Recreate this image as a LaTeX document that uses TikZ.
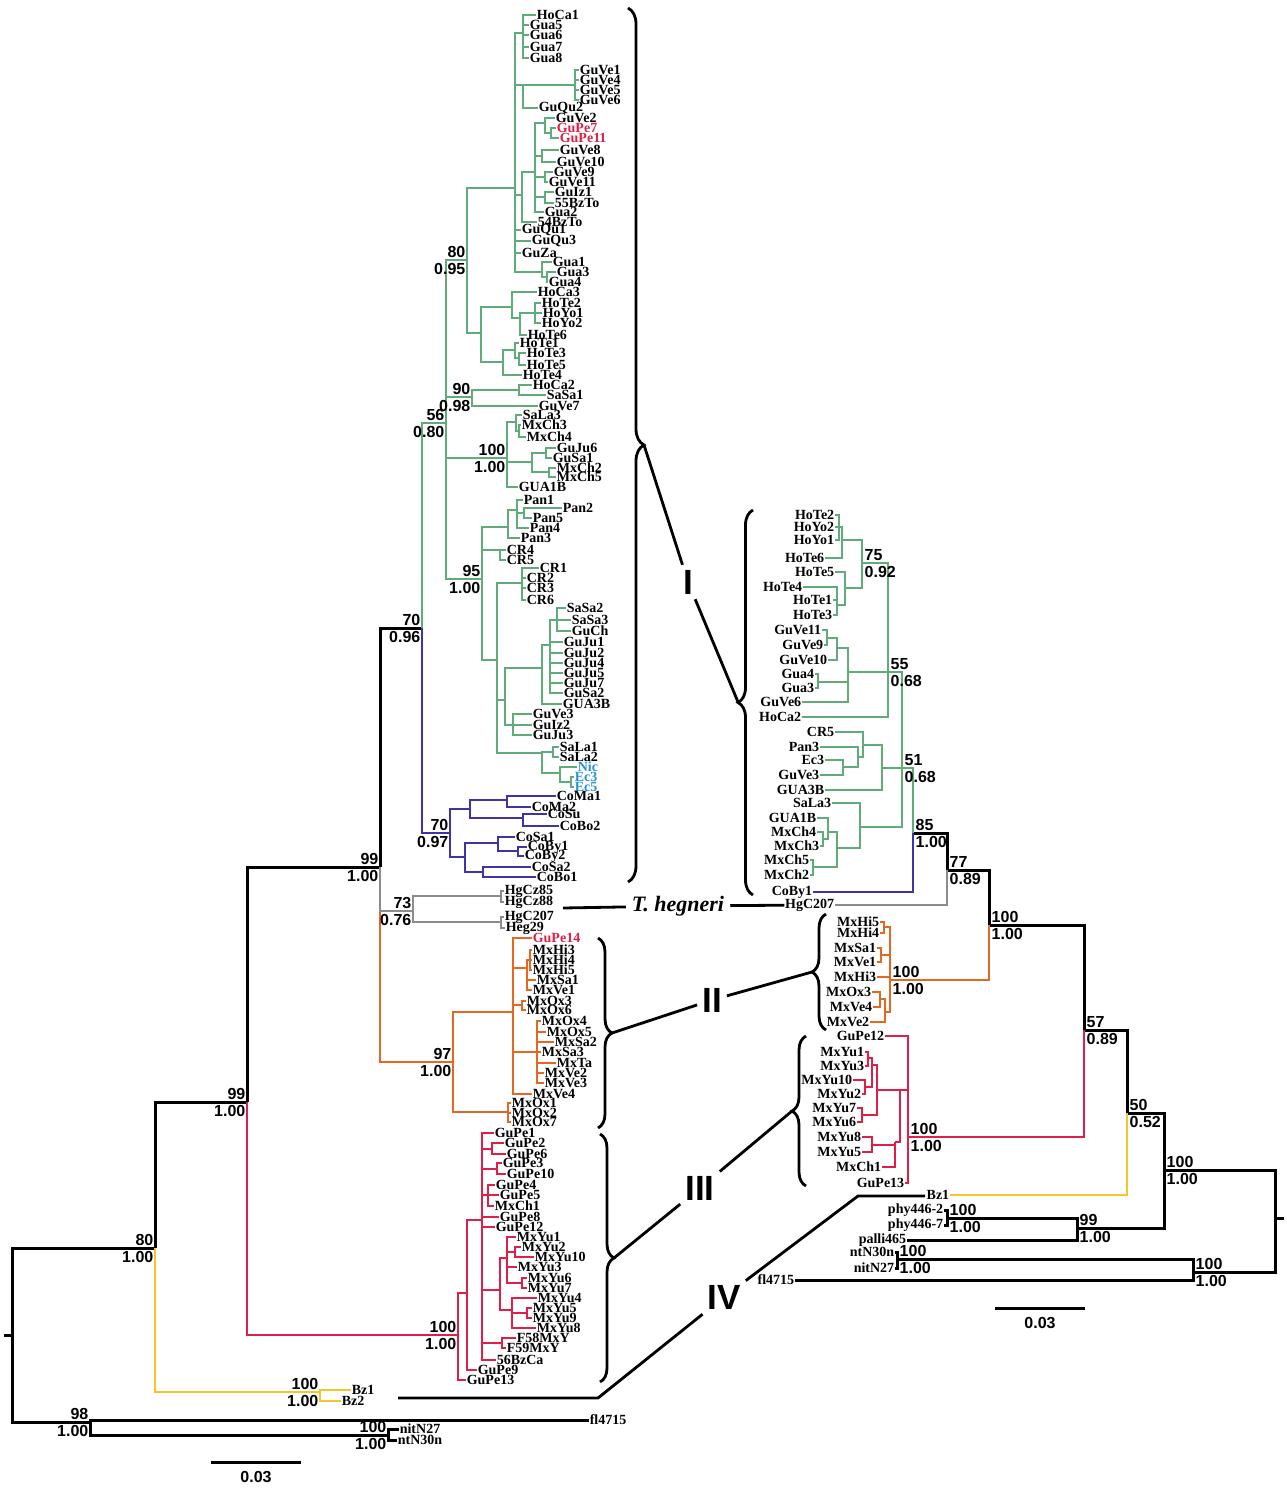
\documentclass[tikz,border=0pt]{standalone}
\usepackage{fontspec}
\setmainfont{Liberation Serif}
\newfontfamily\numfont{Liberation Sans}
\usepackage{tikz}
\usetikzlibrary{decorations.pathreplacing}

\definecolor{tgreen}{RGB}{95,172,122}
\definecolor{tpurple}{RGB}{62,52,168}
\definecolor{tgray}{RGB}{140,140,140}
\definecolor{torange}{RGB}{228,104,34}
\definecolor{tred}{RGB}{222,32,72}
\definecolor{tyellow}{RGB}{246,196,44}
\definecolor{tblue}{RGB}{40,145,210}

\tikzset{
  lf/.style={anchor=west, inner sep=0.6pt, font=\fontsize{14}{14}\selectfont\bfseries},
  rf/.style={lf, anchor=east},
  bsv/.style={inner sep=0.5pt, font=\numfont\fontsize{16}{16}\selectfont\bfseries},
  br/.style={line width=2.6pt},
  kbr/.style={line width=3pt, draw=black},
  gbr/.style={br, draw=tgreen},
  pbr/.style={br, draw=tpurple},
  hbr/.style={br, draw=tgray},
  obr/.style={br, draw=torange},
  rbr/.style={br, draw=tred},
  ybr/.style={br, draw=tyellow},
  brc/.style={decorate, decoration={brace, amplitude=#1}, line width=2.8pt},
  conn/.style={line width=2.8pt},
  roman/.style={font=\numfont\fontsize{35}{35}\selectfont\bfseries, inner sep=5pt},
}

\newcommand{\nd}[3]{\coordinate (#1) at (#2,#3);}
\newcommand{\tip}[4][]{\node[lf,#1] (#2) at (#3,#4) {#2};}
\newcommand{\rtip}[4][]{\node[rf,#1] (r#2) at (#3,#4) {#2};}
\newcommand{\kids}[3]{\foreach \kid in {#3} {\draw[#1] (#2) |- (\kid);}}
\newcommand{\bsl}[3]{%
  \node[bsv, anchor=south east] (#1t) at ([xshift=-1pt,yshift=2pt]#1) {#2};
  \node[bsv, anchor=north east] (#1b) at ([xshift=-1pt,yshift=-3pt]#1) {#3};}
\newcommand{\bsr}[3]{%
  \node[bsv, anchor=south west] (#1t) at ([xshift=2pt,yshift=2pt]#1) {#2};
  \node[bsv, anchor=north west] (#1b) at ([xshift=2pt,yshift=-3pt]#1) {#3};}

\begin{document}
\begin{tikzpicture}[x=1pt, y=-1pt]
\useasboundingbox (0,0) rectangle (1286,1490);

% left tree, backbone
\nd{root}{12}{1335} \nd{rootstub}{4}{1335}
\nd{n98}{90}{1422} \nd{nNit}{388}{1435}
\nd{n80}{155}{1248} \nd{nBz}{320}{1392}
\nd{n99a}{247}{1102} \nd{n99b}{380}{867}
\nd{nRed}{458}{1335} \nd{nI}{422}{628}
\nd{nGray}{413}{911} \nd{nOr}{453}{1062}
\nd{nGreen}{446}{423} \nd{nPur}{450}{833}

% clade I
\nd{nA}{467}{260} \nd{nB}{515}{188} \nd{nB1}{523}{33} \nd{nB2}{523}{85}
\nd{nGV}{575}{85} \nd{nB3}{522}{195} \nd{nC}{535}{172} \nd{nC1}{545}{123}
\nd{nC1a}{551}{133} \nd{nC2}{542}{156} \nd{nC3}{545}{177} \nd{nC4}{545}{197}
\nd{nB4}{542}{272} \nd{nB4a}{547}{277}
\tip{HoCa1}{536}{15} \tip{Gua5}{529}{25} \tip{Gua6}{529}{35} \tip{Gua7}{529}{47} \tip{Gua8}{529}{58}
\tip{GuVe1}{579}{70} \tip{GuVe4}{579}{80} \tip{GuVe5}{579}{90} \tip{GuVe6}{579}{100} \tip{GuQu2}{538}{108}
\tip{GuVe2}{555}{118} \tip[text=tred]{GuPe7}{556}{128} \tip[text=tred]{GuPe11}{559}{138}
\tip{GuVe8}{559}{150} \tip{GuVe10}{556}{162} \tip{GuVe9}{553}{172} \tip{GuVe11}{548}{182}
\tip{GuIz1}{554}{192} \tip{55BzTo}{554}{203} \tip{Gua2}{544}{212} \tip{54BzTo}{537}{222}
\tip{GuQu1}{521}{230} \tip{GuQu3}{531}{241} \tip{GuZa}{521}{253}
\tip{Gua1}{552}{262} \tip{Gua3}{556}{272} \tip{Gua4}{548}{282}

\nd{nHo}{481}{333} \nd{nHo1}{512}{307} \nd{nHo1a}{520}{318} \nd{nHo1b}{535}{313}
\nd{nHo2}{503}{362} \nd{nHo2a}{515}{350} \nd{nHo2b}{519}{358}
\tip{HoCa3}{537}{292} \tip{HoTe2}{541}{303} \tip{HoYo1}{542}{313} \tip{HoYo2}{541}{323}
\tip{HoTe6}{527}{335} \tip{HoTe1}{519}{343} \tip{HoTe3}{526}{353} \tip{HoTe5}{526}{365} \tip{HoTe4}{522}{375}

\nd{n90}{472}{397} \nd{n90a}{519}{390}
\tip{HoCa2}{532}{385} \tip{SaSa1}{546}{395} \tip{GuVe7}{538}{406}

\nd{n100}{507}{458} \nd{nSL}{516}{422} \nd{nSLa}{519}{431} \nd{nGJ}{532}{462}
\nd{nGJa}{546}{453} \nd{nGJb}{549}{472}
\tip{SaLa3}{522}{415} \tip{MxCh3}{521}{425} \tip{MxCh4}{526}{437} \tip{GuJu6}{556}{448}
\tip{GuSa1}{552}{458} \tip{MxCh2}{556}{468} \tip{MxCh5}{556}{477} \tip{GUA1B}{518}{487}

\nd{n95}{482}{579} \nd{nPan}{508}{527} \nd{nPan1}{517}{510} \nd{nPan2}{524}{513}
\nd{nCR45}{500}{550} \nd{nRest}{497}{660} \nd{nCR}{522}{583} \nd{nJ}{505}{700}
\nd{nJJ}{542}{668} \nd{nSG}{550}{645} \nd{nSS}{557}{620} \nd{nGV3}{513}{725}
\nd{nSa}{542}{753} \nd{nSL12}{553}{752} \nd{nNE}{560}{773} \nd{nEc}{571}{782}
\tip{Pan1}{523}{500} \tip{Pan2}{562}{508} \tip{Pan5}{532}{518} \tip{Pan4}{529}{528} \tip{Pan3}{520}{538}
\tip{CR4}{506}{550} \tip{CR5}{506}{560}
\tip{CR1}{539}{568} \tip{CR2}{526}{578} \tip{CR3}{526}{588} \tip{CR6}{526}{600}
\tip{SaSa2}{566}{608} \tip{SaSa3}{571}{620} \tip{GuCh}{571}{631}
\tip{GuJu1}{563}{642} \tip{GuJu2}{563}{653} \tip{GuJu4}{563}{663} \tip{GuJu5}{563}{673}
\tip{GuJu7}{563}{683} \tip{GuSa2}{563}{693} \tip{GUA3B}{562}{704}
\tip{GuVe3}{532}{714} \tip{GuIz2}{532}{725} \tip{GuJu3}{532}{735}
\tip{SaLa1}{559}{747} \tip{SaLa2}{559}{757}
\tip[text=tblue]{Nic}{577}{767} \tip[text=tblue]{Ec3}{574}{777} \tip[text=tblue]{Ec5}{574}{787}

% purple
\nd{nP1}{470}{809} \nd{nP1a}{507}{800} \nd{nP1b}{523}{818} \nd{nP2}{465}{857}
\nd{nP2a}{498}{843} \nd{nBy}{518}{851} \nd{nP2b}{483}{872}
\tip{CoMa1}{556}{796} \tip{CoMa2}{531}{807} \tip{CoSu}{547}{814} \tip{CoBo2}{559}{826}
\tip{CoSa1}{515}{837} \tip{CoBy1}{527}{847} \tip{CoBy2}{524}{856} \tip{CoSa2}{531}{867} \tip{CoBo1}{536}{877}

% T. hegneri
\nd{nHgCz}{501}{896} \nd{nHg2}{501}{922}
\tip{HgCz85}{504}{891} \tip{HgCz88}{504}{902} \tip{HgC207}{504}{917} \tip{Heg29}{505}{928}

% clade II
\nd{nOr1}{513}{1012} \nd{nOx}{508}{1112} \nd{nHi}{527}{968} \nd{nHi3}{530}{960}
\nd{nOx36}{522}{1005} \nd{nSa2}{537}{1052}
\tip[text=tred]{GuPe14}{532}{938} \tip{MxHi3}{532}{950} \tip{MxHi4}{532}{960} \tip{MxHi5}{532}{970}
\tip{MxSa1}{536}{980} \tip{MxVe1}{532}{990} \tip{MxOx3}{526}{1001} \tip{MxOx6}{526}{1010}
\tip{MxOx4}{541}{1021} \tip{MxOx5}{546}{1032} \tip{MxSa2}{554}{1042} \tip{MxSa3}{541}{1052}
\tip{MxTa}{556}{1063} \tip{MxVe2}{544}{1073} \tip{MxVe3}{544}{1083} \tip{MxVe4}{532}{1094}
\tip{MxOx1}{511}{1103} \tip{MxOx2}{511}{1113} \tip{MxOx7}{511}{1122}

% clade III
\nd{nR1}{467}{1293} \nd{nR2}{482}{1220} \nd{nPe26}{492}{1149} \nd{nPe310}{497}{1169}
\nd{nPe45}{488}{1195} \nd{nYu}{500}{1290} \nd{nYuA}{507}{1258} \nd{nYu2}{515}{1252}
\nd{nYu67}{522}{1283} \nd{nYuB}{512}{1310} \nd{nYu59}{527}{1313} \nd{nF}{502}{1343}
\tip{GuPe1}{494}{1133} \tip{GuPe2}{504}{1143} \tip{GuPe6}{506}{1154} \tip{GuPe3}{502}{1163}
\tip{GuPe10}{506}{1174} \tip{GuPe4}{495}{1185} \tip{GuPe5}{499}{1195} \tip{MxCh1}{494}{1206}
\tip{GuPe8}{499}{1217} \tip{GuPe12}{495}{1227} \tip{MxYu1}{516}{1237} \tip{MxYu2}{521}{1247}
\tip{MxYu10}{534}{1257} \tip{MxYu3}{517}{1267} \tip{MxYu6}{527}{1278} \tip{MxYu7}{527}{1288}
\tip{MxYu4}{537}{1298} \tip{MxYu5}{532}{1308} \tip{MxYu9}{532}{1318} \tip{MxYu8}{536}{1328}
\tip{F58MxY}{516}{1338} \tip{F59MxY}{506}{1348} \tip{56BzCa}{496}{1360}
\tip{GuPe9}{477}{1370} \tip{GuPe13}{466}{1380}

% clade IV and outgroup
\tip{Bz1}{351}{1390} \tip{Bz2}{341}{1401}
\tip{fl4715}{589}{1420} \tip{nitN27}{399}{1429} \tip{ntN30n}{397}{1440}

% left branches
\draw[kbr] (rootstub) -- (root);
\kids{kbr}{root}{n80,n98}
\kids{kbr}{n98}{fl4715,nNit}
\kids{kbr}{nNit}{nitN27,ntN30n}
\kids{kbr}{n80}{n99a}
\kids{ybr}{n80}{nBz}
\kids{ybr}{nBz}{Bz1,Bz2}
\kids{kbr}{n99a}{n99b}
\kids{rbr}{n99a}{nRed}
\kids{obr}{n99b}{nOr}
\kids{hbr}{n99b}{nGray}
\kids{kbr}{n99b}{nI}
\kids{gbr}{nI}{nGreen}
\kids{pbr}{nI}{nPur}

\kids{gbr}{nGreen}{nA,n90,n100,n95}
\kids{gbr}{nA}{nB,nHo}
\kids{gbr}{nB}{nB1,nB2,nB3,GuQu1,GuQu3,GuZa,nB4}
\kids{gbr}{nB1}{HoCa1,Gua5,Gua6,Gua7,Gua8}
\kids{gbr}{nB2}{nGV,GuQu2}
\kids{gbr}{nGV}{GuVe1,GuVe4,GuVe5,GuVe6}
\kids{gbr}{nB3}{nC,54BzTo}
\kids{gbr}{nC}{nC1,nC2,nC3,nC4,Gua2}
\kids{gbr}{nC1}{GuVe2,nC1a}
\kids{gbr}{nC1a}{GuPe7,GuPe11}
\kids{gbr}{nC2}{GuVe8,GuVe10}
\kids{gbr}{nC3}{GuVe9,GuVe11}
\kids{gbr}{nC4}{GuIz1,55BzTo}
\kids{gbr}{nB4}{Gua1,nB4a}
\kids{gbr}{nB4a}{Gua3,Gua4}
\kids{gbr}{nHo}{nHo1,nHo2}
\kids{gbr}{nHo1}{HoCa3,nHo1a}
\kids{gbr}{nHo1a}{nHo1b,HoTe6}
\kids{gbr}{nHo1b}{HoTe2,HoYo1,HoYo2}
\kids{gbr}{nHo2}{nHo2a,HoTe4}
\kids{gbr}{nHo2a}{HoTe1,nHo2b}
\kids{gbr}{nHo2b}{HoTe3,HoTe5}
\kids{gbr}{n90}{n90a,GuVe7}
\kids{gbr}{n90a}{HoCa2,SaSa1}
\kids{gbr}{n100}{nSL,nGJ,GUA1B}
\kids{gbr}{nSL}{SaLa3,nSLa}
\kids{gbr}{nSLa}{MxCh3,MxCh4}
\kids{gbr}{nGJ}{nGJa,nGJb}
\kids{gbr}{nGJa}{GuJu6,GuSa1}
\kids{gbr}{nGJb}{MxCh2,MxCh5}
\kids{gbr}{n95}{nPan,nCR45,nRest}
\kids{gbr}{nPan}{nPan1,Pan3}
\kids{gbr}{nPan1}{Pan1,nPan2,Pan4}
\kids{gbr}{nPan2}{Pan2,Pan5}
\kids{gbr}{nCR45}{CR4,CR5}
\kids{gbr}{nRest}{nCR,nJ,nSa}
\kids{gbr}{nCR}{CR1,CR2,CR3,CR6}
\kids{gbr}{nJ}{nJJ,nGV3}
\kids{gbr}{nJJ}{nSG,GUA3B}
\kids{gbr}{nSG}{nSS,GuJu1,GuJu2,GuJu4,GuJu5,GuJu7,GuSa2}
\kids{gbr}{nSS}{SaSa2,SaSa3,GuCh}
\kids{gbr}{nGV3}{GuVe3,GuIz2,GuJu3}
\kids{gbr}{nSa}{nSL12,nNE}
\kids{gbr}{nSL12}{SaLa1,SaLa2}
\kids{gbr}{nNE}{Nic,nEc}
\kids{gbr}{nEc}{Ec3,Ec5}

\kids{pbr}{nPur}{nP1,nP2}
\kids{pbr}{nP1}{nP1a,nP1b}
\kids{pbr}{nP1a}{CoMa1,CoMa2}
\kids{pbr}{nP1b}{CoSu,CoBo2}
\kids{pbr}{nP2}{nP2a,nP2b}
\kids{pbr}{nP2a}{CoSa1,nBy}
\kids{pbr}{nBy}{CoBy1,CoBy2}
\kids{pbr}{nP2b}{CoSa2,CoBo1}

\kids{hbr}{nGray}{nHgCz,nHg2}
\kids{hbr}{nHgCz}{HgCz85,HgCz88}
\kids{hbr}{nHg2}{HgC207,Heg29}

\kids{obr}{nOr}{nOr1,nOx}
\kids{obr}{nOr1}{GuPe14,nHi,nOx36,nSa2,MxVe4}
\kids{obr}{nHi}{nHi3,MxSa1,MxVe1}
\kids{obr}{nHi3}{MxHi3,MxHi4,MxHi5}
\kids{obr}{nOx36}{MxOx3,MxOx6}
\kids{obr}{nSa2}{MxOx4,MxOx5,MxSa2,MxSa3,MxTa,MxVe2,MxVe3}
\kids{obr}{nOx}{MxOx1,MxOx2,MxOx7}

\kids{rbr}{nRed}{nR1,GuPe13}
\kids{rbr}{nR1}{nR2,GuPe9}
\kids{rbr}{nR2}{GuPe1,nPe26,nPe310,nPe45,GuPe8,GuPe12,nYu,nF,56BzCa}
\kids{rbr}{nPe26}{GuPe2,GuPe6}
\kids{rbr}{nPe310}{GuPe3,GuPe10}
\kids{rbr}{nPe45}{GuPe4,GuPe5,MxCh1}
\kids{rbr}{nYu}{nYuA,nYuB}
\kids{rbr}{nYuA}{MxYu1,nYu2,MxYu3,nYu67}
\kids{rbr}{nYu2}{MxYu2,MxYu10}
\kids{rbr}{nYu67}{MxYu6,MxYu7}
\kids{rbr}{nYuB}{MxYu4,nYu59,MxYu8}
\kids{rbr}{nYu59}{MxYu5,MxYu9}
\kids{rbr}{nF}{F58MxY,F59MxY}

\bsl{n80}{80}{1.00} \bsl{n99a}{99}{1.00} \bsl{n99b}{99}{1.00} \bsl{nI}{70}{0.96}
\bsl{nGreen}{56}{0.80} \bsl{nA}{80}{0.95} \bsl{n90}{90}{0.98} \bsl{n100}{100}{1.00}
\bsl{n95}{95}{1.00} \bsl{nPur}{70}{0.97} \bsl{nGray}{73}{0.76} \bsl{nOr}{97}{1.00}
\bsl{nRed}{100}{1.00} \bsl{nBz}{100}{1.00} \bsl{n98}{98}{1.00} \bsl{nNit}{100}{1.00}

% right tree
\nd{rroot}{1275}{1218} \nd{rstub}{1284}{1218}
\nd{r100a}{1164}{1170} \nd{r100b}{1193}{1272} \nd{rNt}{897}{1259} \nd{r99}{1077}{1228} \nd{rPhy}{947}{1218}
\nd{r50}{1127}{1113} \nd{r57}{1084}{1030} \nd{r100c}{989}{925} \nd{r77}{947}{870} \nd{r85}{913}{833}
\nd{r51}{902}{768} \nd{r55}{888}{672} \nd{r75}{862}{563} \nd{r842}{842}{540} \nd{r839}{839}{527}
\nd{r845}{845}{588} \nd{r837}{837}{605}
\nd{r848}{848}{672} \nd{r836}{837}{648} \nd{r827}{827}{638} \nd{rGua}{818}{682}
\nd{r882}{882}{768} \nd{r863}{863}{745} \nd{r858}{858}{757} \nd{r843}{843}{767}
\nd{r860}{860}{827} \nd{r837b}{837}{848} \nd{r828}{828}{832} \nd{r823}{823}{839} \nd{r813}{813}{867}
\nd{rOr}{890}{980} \nd{rH45}{884}{927} \nd{rSV}{881}{955} \nd{rOV}{885}{1012} \nd{rOV2}{880}{999}
\nd{rRed}{908}{1137} \nd{r900}{900}{1090} \nd{rP}{877}{1090} \nd{r872}{872}{1065} \nd{r868}{868}{1058}
\nd{r865}{865}{1087} \nd{r862}{862}{1115} \nd{r895}{895}{1142} \nd{r872b}{872}{1145}

\rtip{HoTe2}{835}{515} \rtip{HoYo2}{835}{527} \rtip{HoYo1}{835}{540} \rtip{HoTe6}{825}{558}
\rtip{HoTe5}{835}{572} \rtip{HoTe4}{803}{587} \rtip{HoTe1}{833}{600} \rtip{HoTe3}{833}{615}
\rtip{GuVe11}{822}{630} \rtip{GuVe9}{824}{645} \rtip{GuVe10}{828}{660} \rtip{Gua4}{815}{674}
\rtip{Gua3}{815}{688} \rtip{GuVe6}{802}{702} \rtip{HoCa2}{802}{717}
\rtip{CR5}{835}{732} \rtip{Pan3}{820}{747} \rtip{Ec3}{825}{760} \rtip{GuVe3}{820}{775} \rtip{GUA3B}{825}{790}
\rtip{SaLa3}{832}{803} \rtip{GUA1B}{817}{818} \rtip{MxCh4}{817}{832} \rtip{MxCh3}{820}{846}
\rtip{MxCh5}{810}{860} \rtip{MxCh2}{810}{875}
\rtip{CoBy1}{813}{892} \rtip{HgC207}{835}{905}
\rtip{MxHi5}{880}{922} \rtip{MxHi4}{880}{933} \rtip{MxSa1}{877}{948} \rtip{MxVe1}{877}{962}
\rtip{MxHi3}{877}{977} \rtip{MxOx3}{872}{992} \rtip{MxVe4}{873}{1007} \rtip{MxVe2}{870}{1022}
\rtip{GuPe12}{885}{1036} \rtip{MxYu1}{865}{1052} \rtip{MxYu3}{865}{1066} \rtip{MxYu10}{853}{1080}
\rtip{MxYu2}{862}{1094} \rtip{MxYu7}{857}{1108} \rtip{MxYu6}{857}{1122} \rtip{MxYu8}{862}{1137}
\rtip{MxYu5}{862}{1152} \rtip{MxCh1}{882}{1167} \rtip{GuPe13}{905}{1183}
\rtip{Bz1}{950}{1195}
\node[rf] (rphyA) at (944,1210) {phy446-2};
\node[rf] (rphyB) at (944,1225) {phy446-7};
\rtip{palli465}{907}{1240} \rtip{ntN30n}{895}{1252} \rtip{nitN27}{895}{1268} \rtip{fl4715}{795}{1280}

\draw[kbr] (rstub) -- (rroot);
\kids{kbr}{rroot}{r100a,r100b}
\kids{kbr}{r100b}{rNt,rfl4715}
\kids{kbr}{rNt}{rntN30n,rnitN27}
\kids{kbr}{r100a}{r50,r99}
\kids{kbr}{r99}{rPhy,rpalli465}
\kids{kbr}{rPhy}{rphyA,rphyB}
\kids{kbr}{r50}{r57}
\kids{ybr}{r50}{rBz1}
\kids{kbr}{r57}{r100c}
\kids{rbr}{r57}{rRed}
\kids{kbr}{r100c}{r77}
\kids{obr}{r100c}{rOr}
\kids{kbr}{r77}{r85}
\kids{hbr}{r77}{rHgC207}
\kids{gbr}{r85}{r51}
\kids{pbr}{r85}{rCoBy1}
\kids{gbr}{r51}{r55,r882,r860}
\kids{gbr}{r55}{r75,r848,rHoCa2}
\kids{gbr}{r75}{r842,r845}
\kids{gbr}{r842}{r839,rHoTe6}
\kids{gbr}{r839}{rHoTe2,rHoYo2,rHoYo1}
\kids{gbr}{r845}{rHoTe5,r837}
\kids{gbr}{r837}{rHoTe4,rHoTe1,rHoTe3}
\kids{gbr}{r848}{r836,rGua,rGuVe6}
\kids{gbr}{r836}{r827,rGuVe10}
\kids{gbr}{r827}{rGuVe11,rGuVe9}
\kids{gbr}{rGua}{rGua4,rGua3}
\kids{gbr}{r882}{r863,rGUA3B}
\kids{gbr}{r863}{rCR5,r858}
\kids{gbr}{r858}{rPan3,r843}
\kids{gbr}{r843}{rEc3,rGuVe3}
\kids{gbr}{r860}{rSaLa3,r837b}
\kids{gbr}{r837b}{r828,r813}
\kids{gbr}{r828}{rGUA1B,r823}
\kids{gbr}{r823}{rMxCh4,rMxCh3}
\kids{gbr}{r813}{rMxCh5,rMxCh2}
\kids{obr}{rOr}{rH45,rSV,rMxHi3,rOV}
\kids{obr}{rH45}{rMxHi5,rMxHi4}
\kids{obr}{rSV}{rMxSa1,rMxVe1}
\kids{obr}{rOV}{rOV2,rMxVe2}
\kids{obr}{rOV2}{rMxOx3,rMxVe4}
\kids{rbr}{rRed}{rGuPe12,r900,rGuPe13}
\kids{rbr}{r900}{rP,r895}
\kids{rbr}{rP}{r872,r862}
\kids{rbr}{r872}{r868,r865}
\kids{rbr}{r868}{rMxYu1,rMxYu3}
\kids{rbr}{r865}{rMxYu10,rMxYu2}
\kids{rbr}{r862}{rMxYu7,rMxYu6}
\kids{rbr}{r895}{r872b,rMxCh1}
\kids{rbr}{r872b}{rMxYu8,rMxYu5}

\bsr{r75}{75}{0.92} \bsr{r55}{55}{0.68} \bsr{r51}{51}{0.68} \bsr{r85}{85}{1.00}
\bsr{r77}{77}{0.89} \bsr{r100c}{100}{1.00} \bsr{rOr}{100}{1.00} \bsr{rRed}{100}{1.00}
\bsr{r57}{57}{0.89} \bsr{r50}{50}{0.52} \bsr{r100a}{100}{1.00} \bsr{r99}{99}{1.00}
\bsr{rPhy}{100}{1.00} \bsr{rNt}{100}{1.00} \bsr{r100b}{100}{1.00}

% braces and clade labels
\nd{bIa}{628}{8} \nd{bIb}{628}{882} \nd{bIc}{753}{895} \nd{bId}{753}{510}
\nd{bIIa}{598}{938} \nd{bIIb}{598}{1128} \nd{bIIc}{826}{1030} \nd{bIId}{826}{914}
\nd{bIIIa}{600}{1134} \nd{bIIIb}{600}{1382} \nd{bIIIc}{806}{1186} \nd{bIIId}{806}{1036}
\draw[brc=16pt] (bIa) -- (bIb);
\draw[brc=15pt] (bIc) -- (bId);
\draw[brc=14pt] (bIIa) -- (bIIb);
\draw[brc=14pt] (bIIc) -- (bIId);
\draw[brc=14pt] (bIIIa) -- (bIIIb);
\draw[brc=14pt] (bIIIc) -- (bIIId);
\nd{tIL}{644}{445} \nd{tIR}{738}{702}
\nd{tIIL}{612}{1033} \nd{tIIR}{812}{972}
\nd{tIIIL}{614}{1258} \nd{tIIIR}{792}{1111}
\node[roman] (labI) at (688,582) {I};
\node[roman] (labII) at (712,1000) {II};
\node[roman] (labIII) at (700,1188) {III};
\node[roman] (labIV) at (724,1297) {IV};
\draw[conn] (tIL) -- (labI); \draw[conn] (labI) -- (tIR);
\draw[conn] (tIIL) -- (labII); \draw[conn] (labII) -- (tIIR);
\draw[conn] (tIIIL) -- (labIII); \draw[conn] (labIII) -- (tIIIR);
\nd{ivA}{398}{1398} \nd{ivB}{598}{1398} \nd{ivC}{858}{1196} \nd{ivD}{925}{1196}
\draw[conn] (ivA) -- (ivB) -- (labIV);
\draw[conn] (labIV) -- (ivC) -- (ivD);
\node[font=\fontsize{22}{22}\selectfont\bfseries\itshape, inner sep=6pt] (labT) at (678,906) {T. hegneri};
\nd{hgL}{563}{908}
\draw[conn] (hgL) -- (labT); \draw[conn] (labT) -- (rHgC207);

% scale bars
\nd{sLa}{211}{1462} \nd{sLb}{301}{1462} \nd{sRa}{995}{1308} \nd{sRb}{1085}{1308}
\draw[kbr] (sLa) -- (sLb); \draw[kbr] (sRa) -- (sRb);
\node[bsv] (sLt) at (256,1477) {0.03};
\node[bsv] (sRt) at (1040,1323) {0.03};
\end{tikzpicture}
\end{document}
